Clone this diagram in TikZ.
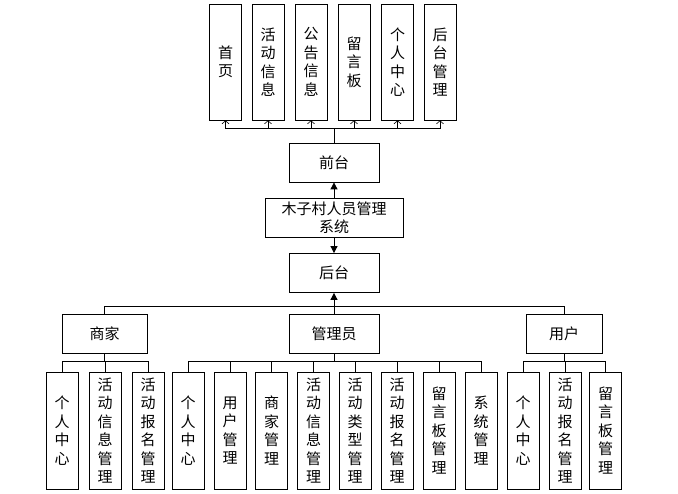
\documentclass[tikz,border=0pt]{standalone}
\usepackage{fontspec}
\setmainfont{Noto Sans CJK SC}
\usetikzlibrary{arrows.meta}

\begin{document}
\begin{tikzpicture}[x=1pt,y=-1pt,line width=0.8pt,
        every node/.style={font=\fontsize{15}{18.5}\selectfont},
        box/.style={draw,fill=white,minimum width=90pt,minimum height=39pt,inner sep=0pt},
        tall/.style={draw,fill=white,minimum width=32pt,minimum height=116pt,inner sep=0pt,align=center},
        leaf/.style={tall,minimum height=117pt},
        barb/.style={-{Straight Barb[length=3pt,width=7pt,line width=0.6pt]}},
        tri/.style={-{Triangle[length=7pt,width=7pt]}}]
        \useasboundingbox (0,0) rectangle (678,494);

        % front end
        \node[tall] (q1) at (225.5,62) {首\\页};
        \node[tall] (q2) at (268,62) {活\\动\\信\\息};
        \node[tall] (q3) at (311,62) {公\\告\\信\\息};
        \node[tall] (q4) at (354,62) {留\\言\\板};
        \node[tall] (q5) at (397.5,62) {个\\人\\中\\心};
        \node[tall] (q6) at (440,62) {后\\台\\管\\理};
        \node[box] (qt) at (334,162.5) {前台};
        \node[box,minimum width=138pt,align=center] (sys) at (334,217.5) {木子村人员管理\\系统};
        \node[box] (ht) at (334,273) {后台};

        % back end
        \node[box,minimum width=85pt] (sj) at (104.5,333.5) {商家};
        \node[box] (gly) at (334,333.5) {管理员};
        \node[box,minimum width=76pt] (yh) at (564,333.5) {用户};

        \node[leaf] (s1) at (62,430.5) {个\\人\\中\\心};
        \node[leaf] (s2) at (105,430.5) {活\\动\\信\\息\\管\\理};
        \node[leaf] (s3) at (148,430.5) {活\\动\\报\\名\\管\\理};

        \node[leaf] (g1) at (188,430.5) {个\\人\\中\\心};
        \node[leaf] (g2) at (230,430.5) {用\\户\\管\\理};
        \node[leaf] (g3) at (271.5,430.5) {商\\家\\管\\理};
        \node[leaf] (g4) at (313.5,430.5) {活\\动\\信\\息\\管\\理};
        \node[leaf] (g5) at (355,430.5) {活\\动\\类\\型\\管\\理};
        \node[leaf] (g6) at (397,430.5) {活\\动\\报\\名\\管\\理};
        \node[leaf] (g7) at (439,430.5) {留\\言\\板\\管\\理};
        \node[leaf] (g8) at (481,430.5) {系\\统\\管\\理};

        \node[leaf] (u1) at (523,430.5) {个\\人\\中\\心};
        \node[leaf] (u2) at (565,430.5) {活\\动\\报\\名\\管\\理};
        \node[leaf] (u3) at (605.5,430.5) {留\\言\\板\\管\\理};

        \coordinate (tb) at (334,128);
        \coordinate (mb) at (334,306);
        \coordinate (sb) at (104.5,361);
        \coordinate (gb) at (334,361);
        \coordinate (ub) at (564,361);

        \draw (qt) -- (tb);
        \draw[barb] (tb) -| (q1);
        \draw[barb] (tb) -| (q2);
        \draw[barb] (tb) -| (q3);
        \draw[barb] (tb) -| (q4);
        \draw[barb] (tb) -| (q5);
        \draw[barb] (tb) -| (q6);
        \draw[tri] (sys) -- (qt);
        \draw[tri] (sys) -- (ht);

        \draw[tri] (mb) -- (ht);
        \draw (mb) -| (sj);
        \draw (mb) -- (gly);
        \draw (mb) -| (yh);

        \draw (sj) -- (sb);
        \draw (sb) -| (s1);
        \draw (sb) -| (s2);
        \draw (sb) -| (s3);

        \draw (gly) -- (gb);
        \draw (gb) -| (g1);
        \draw (gb) -| (g2);
        \draw (gb) -| (g3);
        \draw (gb) -| (g4);
        \draw (gb) -| (g5);
        \draw (gb) -| (g6);
        \draw (gb) -| (g7);
        \draw (gb) -| (g8);

        \draw (yh) -- (ub);
        \draw (ub) -| (u1);
        \draw (ub) -| (u2);
        \draw (ub) -| (u3);
\end{tikzpicture}
\end{document}
